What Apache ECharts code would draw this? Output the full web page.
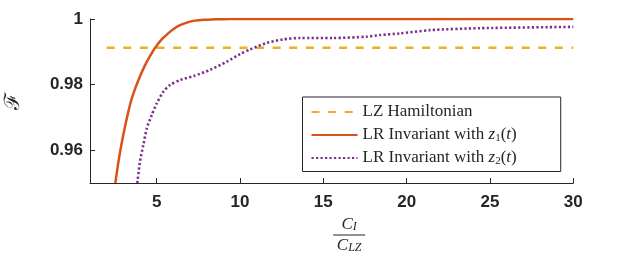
<!DOCTYPE html>
<html>
<head>
<meta charset="utf-8">
<script src="https://cdn.jsdelivr.net/npm/echarts@6/dist/echarts.min.js"></script>
<style>html,body{margin:0;padding:0;background:#fff}#c{width:633px;height:256px}</style>
</head>
<body>
<div id="c"></div>
<script>
// Data
const lzX = [2, 30];
const lzY = [0.9912, 0.9912];
const z1X = [2.52, 2.68, 2.88, 3.08, 3.28, 3.48, 3.68, 3.99, 4.29, 4.59, 4.89, 5.29, 5.69, 6.0, 6.4, 6.81, 7.3, 7.81, 8.5, 9.4, 15, 20, 25, 30];
const z1Y = [0.95, 0.9556, 0.9616, 0.9667, 0.9713, 0.9753, 0.9784, 0.9824, 0.9858, 0.9886, 0.9911, 0.9937, 0.9956, 0.9969, 0.9981, 0.9989, 0.9995, 0.9998, 0.9999, 1.0, 1.0, 1.0, 1.0, 1.0];
const z2X = [3.84, 4.0, 4.2, 4.41, 4.71, 5.01, 5.41, 5.81, 6.41, 7.21, 8.21, 9.21, 10.0, 10.6, 11.6, 12.6, 13.6, 15.6, 17.6, 18.4, 19.6, 21.4, 24.4, 30];
const z2Y = [0.95, 0.9566, 0.9616, 0.9667, 0.9708, 0.9743, 0.9779, 0.9799, 0.9814, 0.9826, 0.9845, 0.9870, 0.9893, 0.9907, 0.9927, 0.9938, 0.9942, 0.9942, 0.9946, 0.9951, 0.9956, 0.9966, 0.9972, 0.9976];
const xTicks = [5, 10, 15, 20, 25, 30];
const yTicks = [0.96, 0.98, 1];
const seriesNames = ['LZ Hamiltonian', 'LR Invariant with z1', 'LR Invariant with z2'];

const zip = (xs, ys) => xs.map((x, i) => [x, ys[i]]);
const axisColor = '#262626';
const tickFont = {fontFamily: 'Liberation Sans', fontWeight: 'bold', fontSize: 17, color: axisColor};

const chart = echarts.init(document.getElementById('c'), null, {renderer: 'canvas'});
chart.setOption({
  backgroundColor: '#fff',
  animation: false,
  grid: {left: 90, right: 59.7, top: 19, bottom: 73, containLabel: false, outerBoundsMode: 'none'},
  xAxis: {
    type: 'value', min: 1, max: 30,
    axisLine: {show: true, lineStyle: {color: axisColor, width: 1}},
    axisTick: {show: true, inside: true, length: 5, customValues: xTicks, lineStyle: {color: axisColor}},
    axisLabel: Object.assign({margin: 11, customValues: xTicks}, tickFont),
    splitLine: {show: false},
    name: '{n|C}{ns|I}\n{bar| }\n{n|C}{ns|LZ}',
    nameLocation: 'middle', nameGap: 29,
    nameTextStyle: {
      padding: [0, 0, 0, 35],
      rich: {
        n: {fontFamily: 'Liberation Serif', fontStyle: 'italic', fontSize: 17, color: axisColor, lineHeight: 16},
        ns: {fontFamily: 'Liberation Serif', fontStyle: 'italic', fontSize: 12, color: axisColor, lineHeight: 11, padding: [5, 0, 0, 0]},
        bar: {width: 32, height: 1, lineHeight: 5, backgroundColor: axisColor, fontSize: 1}
      }
    }
  },
  yAxis: {
    type: 'value', min: 0.95, max: 1,
    axisLine: {show: true, lineStyle: {color: axisColor, width: 1}},
    axisTick: {show: true, inside: true, length: 5, customValues: yTicks, lineStyle: {color: axisColor}},
    axisLabel: Object.assign({margin: 7, customValues: yTicks, formatter: v => (v === 1 ? '1' : v.toFixed(2))}, tickFont),
    splitLine: {show: false},
    name: 'ℱ', nameLocation: 'middle', nameGap: 66, nameRotate: 90,
    nameTextStyle: {fontFamily: 'DejaVu Serif', fontStyle: 'normal', fontSize: 21, color: axisColor}
  },
  legend: {
    orient: 'vertical', left: 302.5, top: 97,
    padding: [6.5, 44, 5, 8], itemGap: 6,
    itemWidth: 46, itemHeight: 14,
    backgroundColor: '#fff', borderColor: axisColor, borderWidth: 1, borderRadius: 0,
    itemStyle: {opacity: 0, borderWidth: 0},
    data: seriesNames,
    formatter: function (name) {
      if (name === seriesNames[1]) return '{t|LR Invariant with }{i|z}{s|1}{t|(}{i|t}{t|)}';
      if (name === seriesNames[2]) return '{t|LR Invariant with }{i|z}{s|2}{t|(}{i|t}{t|)}';
      return '{t|' + name + '}';
    },
    textStyle: {
      fontFamily: 'Liberation Serif', fontSize: 17, color: axisColor, lineHeight: 14,
      rich: {
        t: {fontFamily: 'Liberation Serif', fontSize: 17, color: axisColor, lineHeight: 14},
        i: {fontFamily: 'Liberation Serif', fontStyle: 'italic', fontSize: 17, color: axisColor, lineHeight: 14},
        s: {fontFamily: 'Liberation Serif', fontSize: 11, color: axisColor, lineHeight: 14, padding: [6, 0, 0, 0]}
      }
    }
  },
  series: [
    {name: seriesNames[0], type: 'line', data: zip(lzX, lzY), showSymbol: false, symbol: 'none',
     lineStyle: {color: '#EDB120', width: 2.5, type: [8, 8.6]}, itemStyle: {color: '#EDB120'}, z: 2},
    {name: seriesNames[1], type: 'line', data: zip(z1X, z1Y), showSymbol: false, symbol: 'none', smooth: 0.25,
     lineStyle: {color: '#D95319', width: 2.5}, itemStyle: {color: '#D95319'}, z: 3},
    {name: seriesNames[2], type: 'line', data: zip(z2X, z2Y), showSymbol: false, symbol: 'none', smooth: 0.25,
     lineStyle: {color: '#7E2F8E', width: 2.6, type: [2.2, 2.3]}, itemStyle: {color: '#7E2F8E'}, z: 3}
  ]
});
</script>
</body>
</html>
